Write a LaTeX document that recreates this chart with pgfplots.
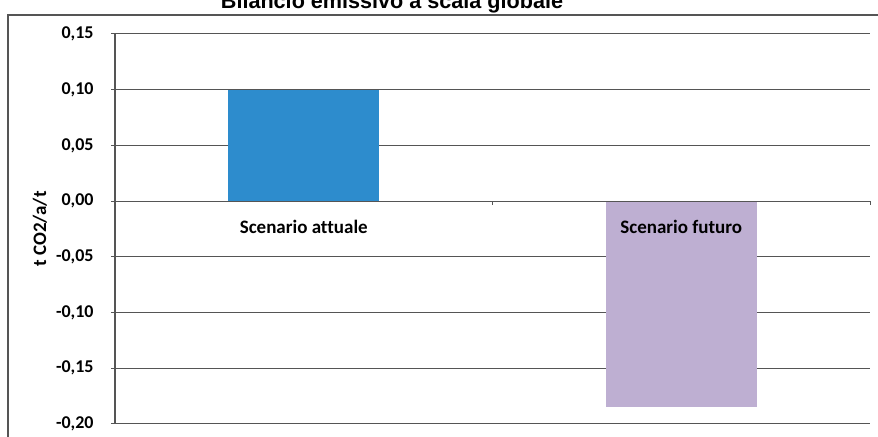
\documentclass[border=0pt]{standalone}
\usepackage{fontspec}
\setmainfont[Ligatures=NoCommon]{Carlito}
\newfontfamily\arialfont{Liberation Sans}
\usepackage{pgfplots}
\pgfplotsset{compat=1.18}

\definecolor{barblue}{RGB}{45,140,205}
\definecolor{barlilac}{RGB}{190,175,210}
\definecolor{gridgray}{RGB}{85,85,85}

\begin{document}
\begin{tikzpicture}
  % page = 878x437 px, 1 px = 0.5 pt
  \useasboundingbox (0,0) rectangle (439pt,218.5pt);
  \clip (0,0) rectangle (439pt,218.5pt);

  % outer chart frame (partly cut off like the scan)
  \draw[gridgray, line width=0.6pt] (4pt,-10pt) rectangle (450pt,211pt);

  \node[anchor=base, font=\arialfont\bfseries\fontsize{10.8}{12}\selectfont]
    at (196pt,214pt) {Bilancio emissivo a scala globale};

  \node[rotate=90, font=\bfseries\fontsize{9.5}{11}\selectfont]
    at (20pt,104pt) {t CO2/a/t};

  \begin{axis}[
    at={(57.5pt,6.5pt)}, anchor=south west,
    scale only axis,
    width=377.5pt, height=195pt,
    xmin=0, xmax=2,
    ymin=-0.20, ymax=0.15,
    ytick={-0.20,-0.15,-0.10,-0.05,0,0.05,0.10,0.15},
    xtick=\empty,
    axis x line=none,
    axis y line*=left,
    axis line style={gridgray, line width=0.6pt, -},
    ymajorgrids,
    grid style={gridgray, line width=0.5pt},
    tick align=outside,
    major tick length=2pt,
    tick style={gridgray, line width=0.5pt},
    yticklabel style={
      font=\bfseries\fontsize{9}{10}\selectfont,
      anchor=east, inner sep=0pt, xshift=-8.5pt,
      /pgf/number format/.cd, fixed, fixed zerofill, precision=2,
      use comma, assume math mode=true,
    },
    clip=false,
  ]
    \addplot[ybar, bar shift=0pt, bar width=75.5pt, fill=barblue, draw=none]
      coordinates {(0.5,0.10)};
    \addplot[ybar, bar shift=0pt, bar width=75.5pt, fill=barlilac, draw=none]
      coordinates {(1.5,-0.185)};

    % category axis at zero with boundary ticks
    \draw[gridgray, line width=0.6pt] (axis cs:0,0) -- (axis cs:2,0);
    \draw[gridgray, line width=0.5pt] (axis cs:1,0) -- ([yshift=-2pt]axis cs:1,0);
    \draw[gridgray, line width=0.5pt] (axis cs:2,0) -- ([yshift=-2pt]axis cs:2,0);

    \node[font=\bfseries\fontsize{9.5}{11}\selectfont] at ([yshift=-13pt]axis cs:0.5,0) {Scenario attuale};
    \node[font=\bfseries\fontsize{9.5}{11}\selectfont] at ([yshift=-13pt]axis cs:1.5,0) {Scenario futuro};
  \end{axis}
\end{tikzpicture}
\end{document}
